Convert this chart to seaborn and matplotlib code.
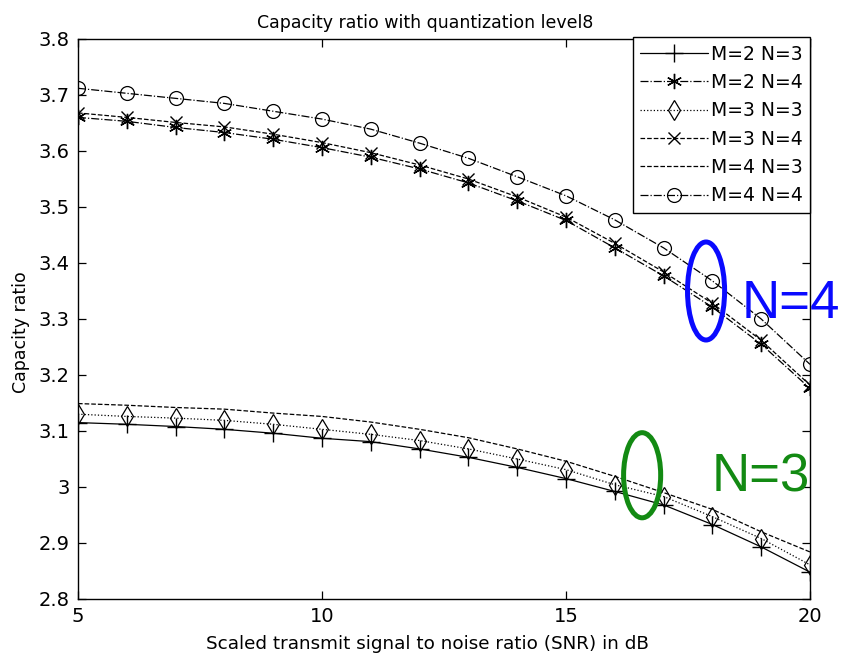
import matplotlib
matplotlib.use("Agg")
import matplotlib.pyplot as plt
from matplotlib.patches import Ellipse
import seaborn as sns
import numpy as np

snr = [5, 6, 7, 8, 9, 10, 11, 12, 13, 14, 15, 16, 17, 18, 19, 20]

m2n3 = [3.115, 3.112, 3.108, 3.103, 3.096, 3.087, 3.081, 3.068, 3.053, 3.035, 3.015, 2.992, 2.968, 2.933, 2.893, 2.848]
m2n4 = [3.660, 3.653, 3.642, 3.633, 3.621, 3.606, 3.589, 3.568, 3.543, 3.511, 3.476, 3.427, 3.377, 3.321, 3.255, 3.176]
m3n3 = [3.130, 3.126, 3.123, 3.119, 3.112, 3.103, 3.094, 3.083, 3.068, 3.050, 3.031, 3.004, 2.983, 2.947, 2.908, 2.861]
m3n4 = [3.668, 3.660, 3.651, 3.643, 3.630, 3.615, 3.597, 3.575, 3.550, 3.518, 3.482, 3.435, 3.384, 3.328, 3.262, 3.182]
m4n3 = [3.149, 3.146, 3.142, 3.139, 3.132, 3.126, 3.116, 3.103, 3.088, 3.068, 3.046, 3.019, 2.990, 2.960, 2.920, 2.884]
m4n4 = [3.712, 3.703, 3.694, 3.685, 3.671, 3.657, 3.639, 3.614, 3.587, 3.554, 3.520, 3.477, 3.427, 3.368, 3.300, 3.219]

labels = ["M=2 N=3", "M=2 N=4", "M=3 N=3", "M=3 N=4", "M=4 N=3", "M=4 N=4"]
series = [m2n3, m2n4, m3n3, m3n4, m4n3, m4n4]

title = "Capacity ratio with quantization level8"
xlabel = "Scaled transmit signal to noise ratio (SNR) in dB"
ylabel = "Capacity ratio"
xticks = [5, 10, 15, 20]
yticks = [2.8, 2.9, 3.0, 3.1, 3.2, 3.3, 3.4, 3.5, 3.6, 3.7, 3.8]
yticklabels = ["2.8", "2.9", "3", "3.1", "3.2", "3.3", "3.4", "3.5", "3.6", "3.7", "3.8"]

sns.set_style("white")
plt.rcParams['font.family'] = ['DejaVu Sans']
plt.rcParams['text.color'] = 'k'
plt.rcParams['axes.labelcolor'] = 'k'

W, H = 844, 655
fig = plt.figure(figsize=(W / 100, H / 100), dpi=100)
ax = fig.add_axes([78 / W, 1 - 599 / H, (810 - 78) / W, (599 - 39) / H])

styles = [
    dict(linestyle="-", marker="+", markersize=13, mew=1.0, mfc="none"),
    dict(linestyle="-.", marker=(6, 2, 0), markersize=11, mew=1.0, mfc="none"),
    dict(linestyle=":", marker="d", markersize=10, mew=0.9, mfc="none"),
    dict(linestyle="--", marker="x", markersize=8, mew=1.0, mfc="none"),
    dict(linestyle="--", marker=None),
    dict(linestyle="-.", marker="o", markersize=10, mew=0.9, mfc="none"),
]

for lab, vals, st in zip(labels, series, styles):
    sns.lineplot(x=snr, y=vals, ax=ax, color="k", linewidth=0.9, label=lab,
                 mec="k", **st)

ax.set_xlim(5, 20)
ax.set_ylim(2.8, 3.8)
ax.set_xticks(xticks)
ax.set_xticklabels([str(t) for t in xticks])
ax.set_yticks(yticks)
ax.set_yticklabels(yticklabels)
ax.tick_params(direction="in", length=6, width=0.9, labelsize=14, top=True, right=True,
               bottom=True, left=True, colors="k", pad=6)
for sp in ax.spines.values():
    sp.set_color("k")
    sp.set_linewidth(1.0)

ax.set_title(title, fontsize=12.5, pad=8, color="k", x=0.474)
ax.set_xlabel(xlabel, fontsize=13.2, labelpad=6, x=0.477)
ax.set_ylabel(ylabel, fontsize=12.5, labelpad=6, y=0.477)

leg = ax.legend(loc="upper right", bbox_to_anchor=(810 / W, 1 - 37 / H),
                bbox_transform=fig.transFigure, borderaxespad=0,
                fontsize=13.5, handlelength=3.6, handletextpad=0.15,
                labelspacing=0.5, borderpad=0.4, fancybox=False, framealpha=1)
leg.get_frame().set_edgecolor("k")
leg.get_frame().set_linewidth(1.0)

# annotations
ax.add_patch(Ellipse((17.87, 3.35), 0.76, 0.175, fill=False, edgecolor="#0a0aff",
                     linewidth=3.6, clip_on=False, zorder=5))
ax.add_patch(Ellipse((16.56, 3.021), 0.76, 0.152, fill=False, edgecolor="#138a13",
                     linewidth=3.6, clip_on=False, zorder=5))
fig.text(742 / W, 1 - 318 / H, "N=4", color="#0a0aff", fontsize=38,
         family=["Liberation Sans", "DejaVu Sans"], ha="left", va="baseline")
fig.text(712 / W, 1 - 492 / H, "N=3", color="#138a13", fontsize=38,
         family=["Liberation Sans", "DejaVu Sans"], ha="left", va="baseline")

fig.savefig("out.png", dpi=100, facecolor="white")
